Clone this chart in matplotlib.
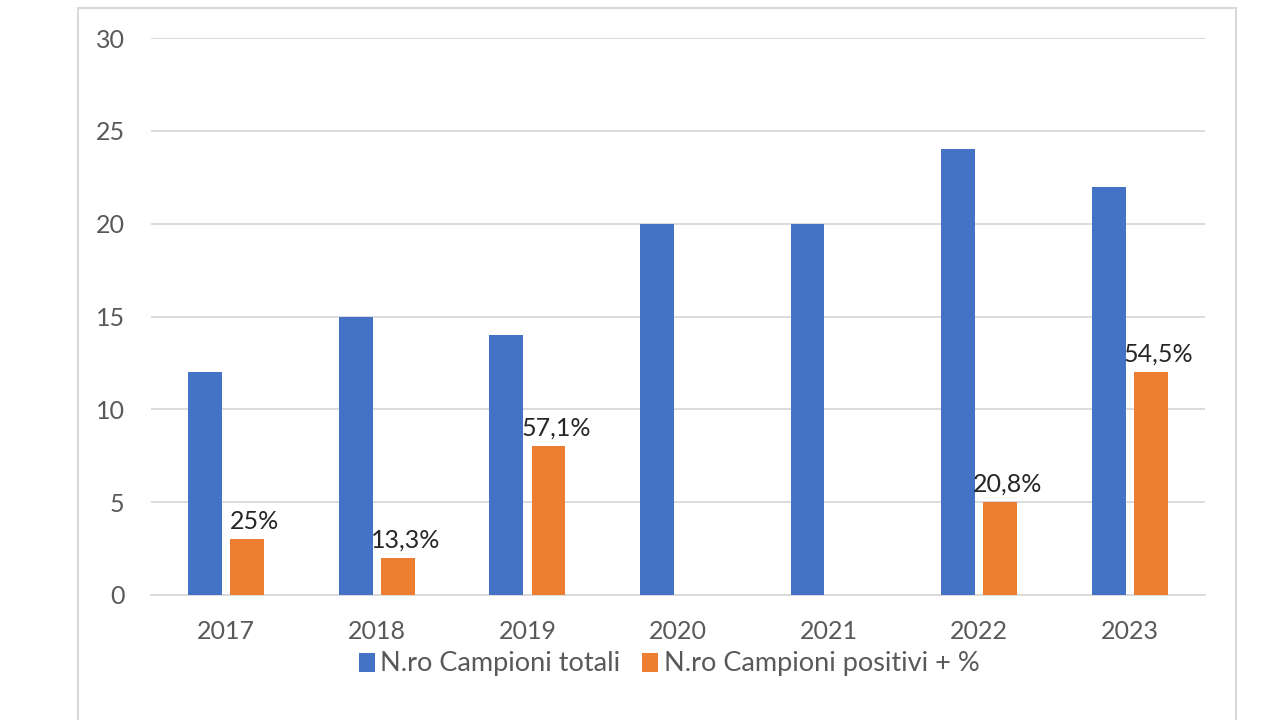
import matplotlib
matplotlib.use("Agg")
import matplotlib.pyplot as plt
import numpy as np
from matplotlib.patches import Rectangle

years = ["2017", "2018", "2019", "2020", "2021", "2022", "2023"]
totali = [12, 15, 14, 20, 20, 24, 22]
positivi = [3, 2, 8, 0, 0, 5, 12]
perc_labels = ["25%", "13,3%", "57,1%", "", "", "20,8%", "54,5%"]

blue = "#4472C4"
orange = "#ED7D31"

plt.rcParams['font.family'] = ['Lato', 'DejaVu Sans']

fig = plt.figure(figsize=(12.8, 7.2), dpi=100)
fig.patch.set_facecolor("white")
# outer chart border
fig.patches.append(Rectangle((78/1280, -0.05), (1236-78)/1280, (720-8)/720 + 0.05,
                             transform=fig.transFigure, fill=False,
                             edgecolor="#d9d9d9", linewidth=1.5))

ax = fig.add_axes([151/1280, 125/720, (1205-151)/1280, (595-38)/720])
x = np.arange(len(years))
w = 0.225
off = 0.14
ax.bar(x - off, totali, width=w, color=blue, label="N.ro Campioni totali", zorder=3)
bo = ax.bar(x + off, positivi, width=w, color=orange, label="N.ro Campioni positivi + %", zorder=3)
for rect, lab in zip(bo, perc_labels):
    if lab:
        ax.text(rect.get_x() + rect.get_width() / 2 + 0.05, rect.get_height() + 0.35, lab,
                ha="center", va="bottom", fontsize=18, color="#262626")

ax.set_xlim(-0.5, len(years) - 0.5)
ax.set_ylim(0, 30)
ax.set_yticks([0, 5, 10, 15, 20, 25, 30])
ax.set_xticks(x)
ax.set_xticklabels(years)
ax.yaxis.grid(True, color="#d9d9d9", linewidth=1.3, zorder=0)
for s in ["top", "right", "left"]:
    ax.spines[s].set_visible(False)
ax.spines["bottom"].set_color("#d9d9d9")
ax.spines["bottom"].set_linewidth(1.3)
ax.tick_params(axis="both", length=0, labelsize=18, labelcolor="#595959")
ax.tick_params(axis="y", pad=19)
ax.tick_params(axis="x", pad=18)

leg = fig.legend(loc="center", bbox_to_anchor=(669/1280, 1 - 664/720), ncol=2, frameon=False,
                 fontsize=19.5, handlelength=0.6, handleheight=0.7, handletextpad=0.2,
                 columnspacing=0.8)
for t in leg.get_texts():
    t.set_color("#595959")

fig.savefig("out.png", dpi=100, facecolor="white")
